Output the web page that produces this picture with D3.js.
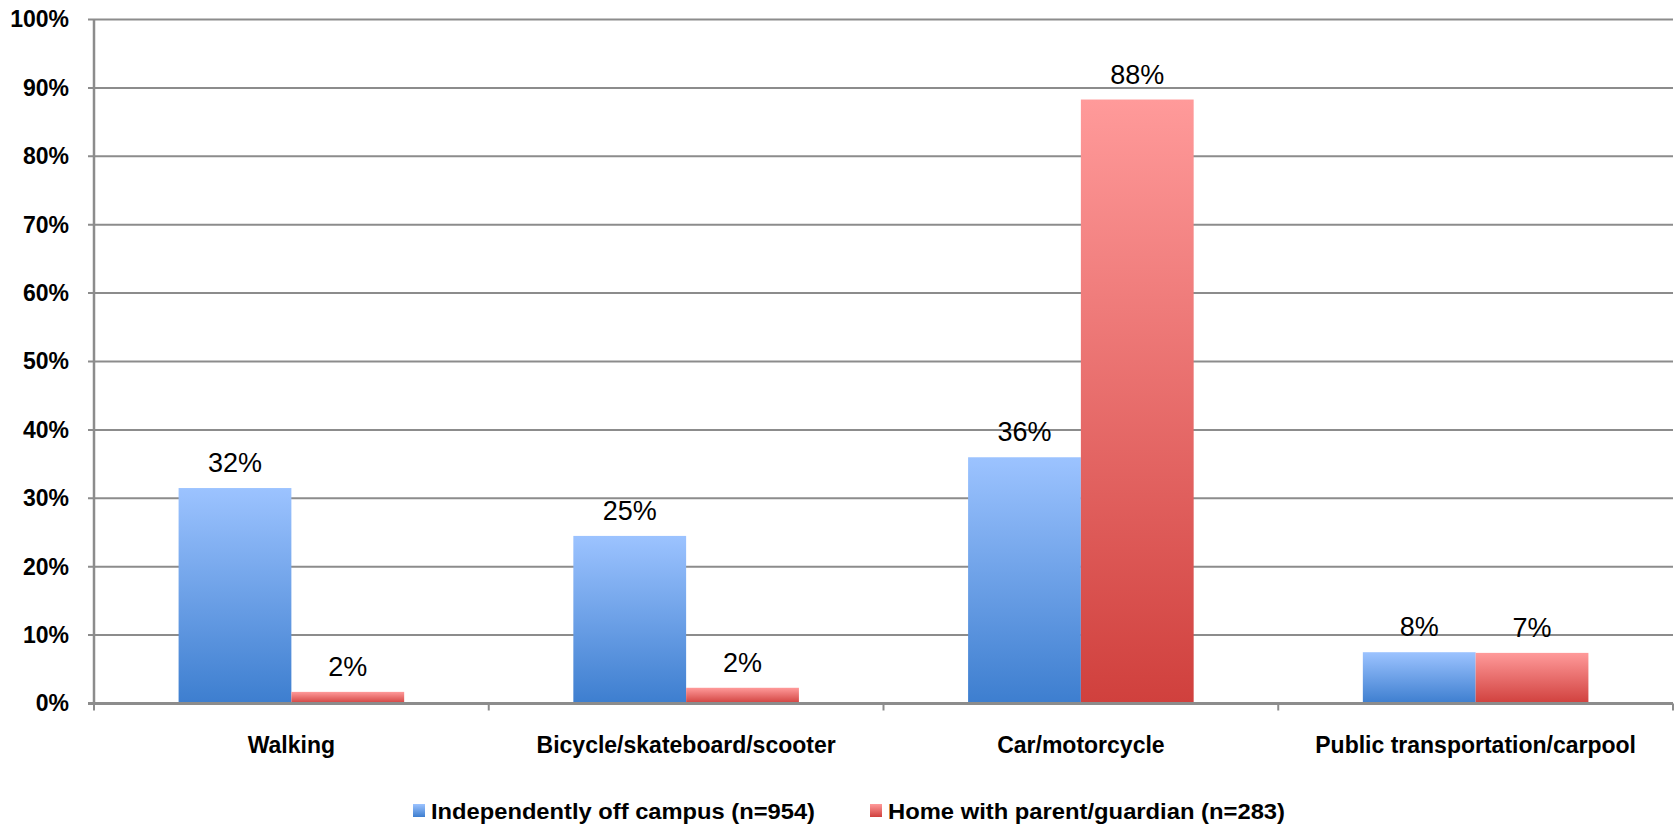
<!DOCTYPE html>
<html>
<head>
<meta charset="utf-8">
<script src="https://cdn.jsdelivr.net/npm/d3@7"></script>
<style>
  body { margin: 0; background: #fff; }
  svg { display: block; font-family: "Liberation Sans", Arial, sans-serif; }
</style>
</head>
<body>
<svg width="1675" height="829"></svg>
<script>
// data
const categories = ["Walking", "Bicycle/skateboard/scooter", "Car/motorcycle", "Public transportation/carpool"];
const seriesNames = ["Independently off campus (n=954)", "Home with parent/guardian (n=283)"];
const independent = [31.5, 24.5, 36.0, 7.5];
const withParent = [1.7, 2.3, 88.3, 7.4];
const yTicks = [0, 10, 20, 30, 40, 50, 60, 70, 80, 90, 100];

const margin = { top: 19.5, right: 2, bottom: 125.5, left: 94 };
const width = 1675 - margin.left - margin.right;
const height = 829 - margin.top - margin.bottom;

const svg = d3.select("svg");

// gradients for the two series
const defs = svg.append("defs");
const grads = [
    { id: "gBlue", top: "#9cc3ff", bottom: "#3d7ecf" },
    { id: "gRed", top: "#ff9a9a", bottom: "#d0403d" }
];
grads.forEach(g => {
    const lg = defs.append("linearGradient")
        .attr("id", g.id)
        .attr("x1", 0).attr("y1", 0).attr("x2", 0).attr("y2", 1);
    lg.append("stop").attr("offset", "0%").attr("stop-color", g.top);
    lg.append("stop").attr("offset", "100%").attr("stop-color", g.bottom);
});

const g = svg.append("g")
    .attr("transform", `translate(${margin.left},${margin.top})`);

const x = d3.scaleBand()
    .domain(categories)
    .range([0, width])
    .paddingInner(0)
    .paddingOuter(0);

const y = d3.scaleLinear()
    .domain([0, 100])
    .range([height, 0]);

// bar width: gap 150% -> band = 3.5 bar widths
const barW = x.bandwidth() / 3.5;

// gridlines
g.append("g")
    .selectAll("line")
    .data(yTicks)
    .enter().append("line")
    .attr("x1", -6)
    .attr("x2", width)
    .attr("y1", d => y(d))
    .attr("y2", d => y(d))
    .attr("stroke", "#8c8c8c")
    .attr("stroke-width", 2);

// y axis labels
const yAxis = g.append("g")
    .call(d3.axisLeft(y).tickValues(yTicks).tickSize(0).tickPadding(25).tickFormat(d => d + "%"));
yAxis.select(".domain").remove();
yAxis.selectAll("text")
    .style("font-size", "23px")
    .style("font-weight", "bold")
    .attr("fill", "#000");

// bars
const data = categories.map((c, i) => ({ cat: c, vals: [independent[i], withParent[i]] }));
const groups = g.selectAll(".grp")
    .data(data)
    .enter().append("g")
    .attr("class", "grp")
    .attr("transform", d => `translate(${x(d.cat) + 0.75 * barW},0)`);

groups.selectAll("rect")
    .data(d => d.vals)
    .enter().append("rect")
    .attr("x", (d, i) => i * barW)
    .attr("width", barW)
    .attr("y", d => y(d))
    .attr("height", d => y(0) - y(d))
    .attr("fill", (d, i) => `url(#${grads[i].id})`);

groups.selectAll("text")
    .data(d => d.vals)
    .enter().append("text")
    .attr("x", (d, i) => i * barW + barW / 2)
    .attr("y", d => y(d) - 16)
    .attr("text-anchor", "middle")
    .style("font-size", "27px")
    .attr("fill", "#000")
    .text(d => d3.format(".0f")(d) + "%");

// axis lines
g.append("line")
    .attr("x1", 0).attr("x2", 0)
    .attr("y1", 0).attr("y2", height)
    .attr("stroke", "#8c8c8c").attr("stroke-width", 2.5);

g.append("line")
    .attr("x1", -6).attr("x2", width)
    .attr("y1", height).attr("y2", height)
    .attr("stroke", "#8c8c8c").attr("stroke-width", 3);

// category boundary ticks
const bounds = categories.map(c => x(c)).concat([width]);
g.append("g")
    .selectAll("line")
    .data(bounds)
    .enter().append("line")
    .attr("x1", d => d).attr("x2", d => d)
    .attr("y1", height).attr("y2", height + 7)
    .attr("stroke", "#8c8c8c").attr("stroke-width", 2);

// category labels
const xAxis = g.append("g")
    .attr("transform", `translate(0,${height})`)
    .call(d3.axisBottom(x).tickSize(0).tickPadding(33));
xAxis.select(".domain").remove();
xAxis.selectAll("text")
    .style("font-size", "23px")
    .style("font-weight", "bold")
    .attr("fill", "#000");

// legend
const legendItems = [
    { name: seriesNames[0], grad: "gBlue", x: 413, textLen: 384 },
    { name: seriesNames[1], grad: "gRed", x: 870, textLen: 397 }
];
const legend = svg.append("g");
legend.selectAll("rect")
    .data(legendItems)
    .enter().append("rect")
    .attr("x", d => d.x)
    .attr("y", 804)
    .attr("width", 12)
    .attr("height", 13)
    .attr("fill", d => `url(#${d.grad})`);

legend.selectAll("text")
    .data(legendItems)
    .enter().append("text")
    .attr("x", d => d.x + 18)
    .attr("y", 819)
    .attr("textLength", d => d.textLen)
    .attr("lengthAdjust", "spacingAndGlyphs")
    .style("font-size", "22px")
    .style("font-weight", "bold")
    .attr("fill", "#000")
    .text(d => d.name);
</script>
</body>
</html>
